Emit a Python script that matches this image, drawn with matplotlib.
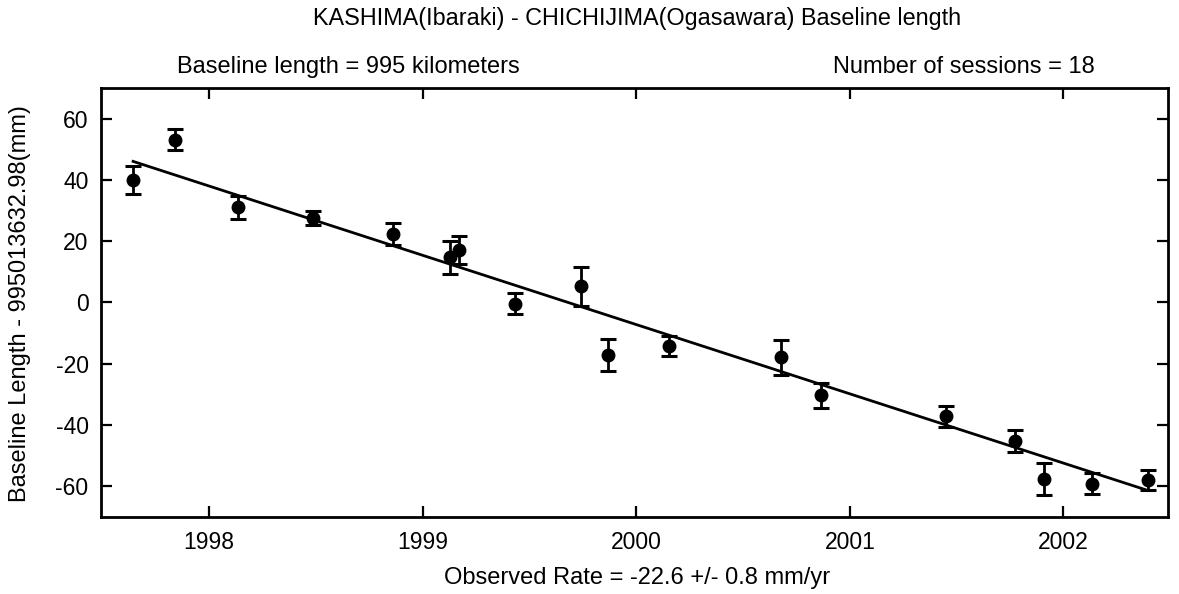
import numpy as np
import matplotlib
matplotlib.use("Agg")
from matplotlib import pyplot as plt

plt.rcParams['font.family'] = ['Liberation Sans', 'DejaVu Sans']
plt.rcParams['axes.unicode_minus'] = False

# session epochs (decimal year), baseline residuals (mm) and 1-sigma errors (mm)
epochs = [1997.644, 1997.84, 1998.137, 1998.486, 1998.86, 1999.13, 1999.17,
          1999.433, 1999.742, 1999.866, 2000.155, 2000.68, 2000.863,
          2001.452, 2001.772, 2001.908, 2002.134, 2002.395]
resid = [40.0, 53.1, 31.1, 27.6, 22.4, 14.8, 17.2,
         -0.4, 5.3, -17.1, -14.3, -17.8, -30.3,
         -37.1, -45.2, -57.7, -59.1, -57.8]
sigma = [4.5, 3.5, 3.7, 2.3, 3.5, 5.4, 4.6,
         3.5, 6.3, 5.2, 3.3, 5.7, 4.1,
         3.4, 3.5, 5.2, 3.5, 3.3]

rate = -22.6        # mm/yr
offset_2000 = -7.2  # fitted value at 2000.0
year_ticks = [1998, 1999, 2000, 2001, 2002]
y_ticks = [60, 40, 20, 0, -20, -40, -60]

fig = plt.figure(figsize=(11.79, 5.94), dpi=100)
ax = fig.add_axes([0.0857, 0.1296, 0.905, 0.7223])

fit_x = np.array([epochs[0], epochs[-1]])
fit_y = offset_2000 + rate * (fit_x - 2000.0)
ax.plot(fit_x, fit_y, color='black', lw=2)

ax.errorbar(epochs, resid, yerr=sigma, fmt='o', color='black', ms=9,
            elinewidth=2, capsize=6, capthick=2.2)

ax.set_xlim(1997.494, 2002.49)
ax.set_ylim(-70, 70)
ax.set_xticks(year_ticks)
ax.set_yticks(y_ticks)
ax.tick_params(direction='in', length=8, width=1.6, labelsize=16.5,
               top=True, right=True)
ax.tick_params(axis='x', pad=10)
ax.tick_params(axis='y', pad=9)
for s in ax.spines.values():
    s.set_linewidth(2)

fig.text(637 / 1179, 1 - 578 / 594, 'Observed Rate = -22.6 +/- 0.8 mm/yr',
         ha='center', va='center', fontsize=17)
fig.text(20 / 1179, 1 - 304 / 594, 'Baseline Length - 995013632.98(mm)',
         ha='center', va='center', rotation=90, fontsize=17)

fig.text(637 / 1179, 1 - 19 / 594,
         'KASHIMA(Ibaraki) - CHICHIJIMA(Ogasawara) Baseline length',
         ha='center', va='center', fontsize=16.8)
fig.text(177 / 1179, 1 - 67 / 594, 'Baseline length = 995 kilometers',
         ha='left', va='center', fontsize=17)
fig.text(1095 / 1179, 1 - 67 / 594, 'Number of sessions = 18',
         ha='right', va='center', fontsize=17)

fig.savefig('out.png', dpi=100)
